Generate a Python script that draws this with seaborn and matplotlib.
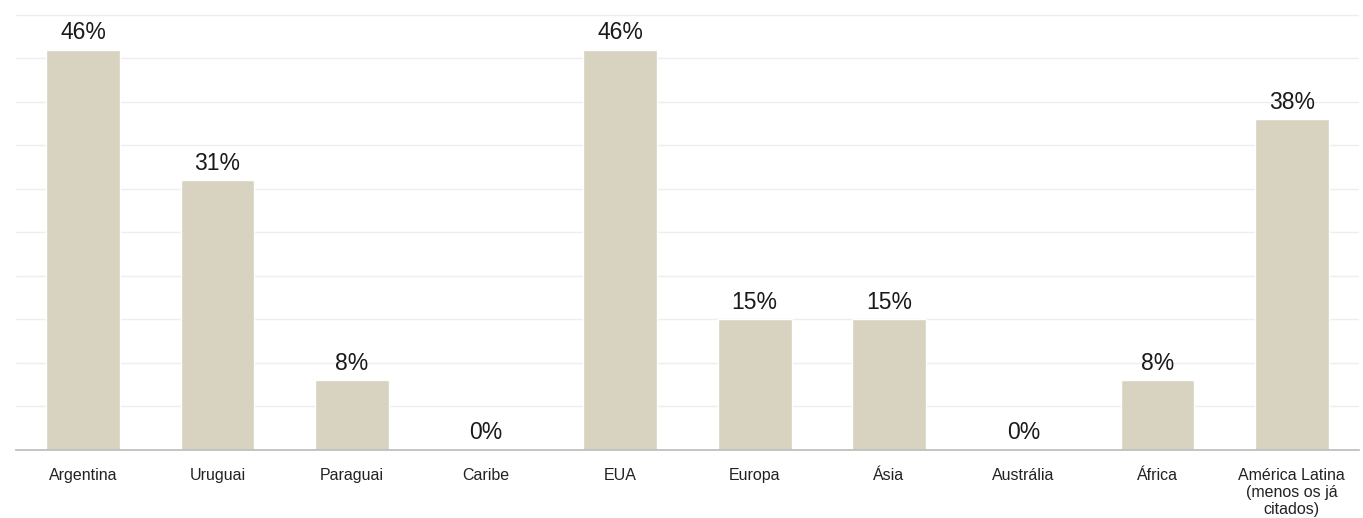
import matplotlib
matplotlib.use("Agg")
import matplotlib.pyplot as plt
import seaborn as sns
import pandas as pd

categories = ["Argentina", "Uruguai", "Paraguai", "Caribe", "EUA", "Europa",
              "Ásia", "Austrália", "África", "América Latina\n(menos os já\ncitados)"]
values = [46, 31, 8, 0, 46, 15, 15, 0, 8, 38]
value_labels = [f"{v}%" for v in values]

sns.set_theme(style="white")
plt.rcParams['font.family'] = ['Liberation Sans', 'DejaVu Sans']

df = pd.DataFrame({"cat": categories, "val": values})

fig = plt.figure(figsize=(13.63, 5.18), dpi=100)
ax = fig.add_axes([16/1363, 68/518, 1343/1363, 450/518])
sns.barplot(data=df, x="cat", y="val", color="#d8d3c0", saturation=1,
            width=0.55, ax=ax)
ax.set_xlim(-0.5, len(categories) - 0.5)
ax.set_ylim(0, 51.7)
ax.set_yticks(range(0, 51, 5))
ax.yaxis.grid(True, color="#eeeeee", linewidth=1)
ax.set_axisbelow(True)
ax.tick_params(axis="y", left=False, labelleft=False)
ax.tick_params(axis="x", bottom=False, labelsize=11.5, pad=7, colors="#222222")
for lbl in ax.get_xticklabels():
    lbl.set_linespacing(1.15)
for s in ["top", "right", "left"]:
    ax.spines[s].set_visible(False)
ax.spines["bottom"].set_color("#bbbbbb")
ax.spines["bottom"].set_linewidth(1.2)
ax.set_xlabel("")
ax.set_ylabel("")
for i, (v, lab) in enumerate(zip(values, value_labels)):
    ax.annotate(lab, (i, v), xytext=(0, 4), textcoords="offset points",
                ha="center", va="bottom", fontsize=16.5, color="#1a1a1a")

fig.savefig("out.png", dpi=100)
